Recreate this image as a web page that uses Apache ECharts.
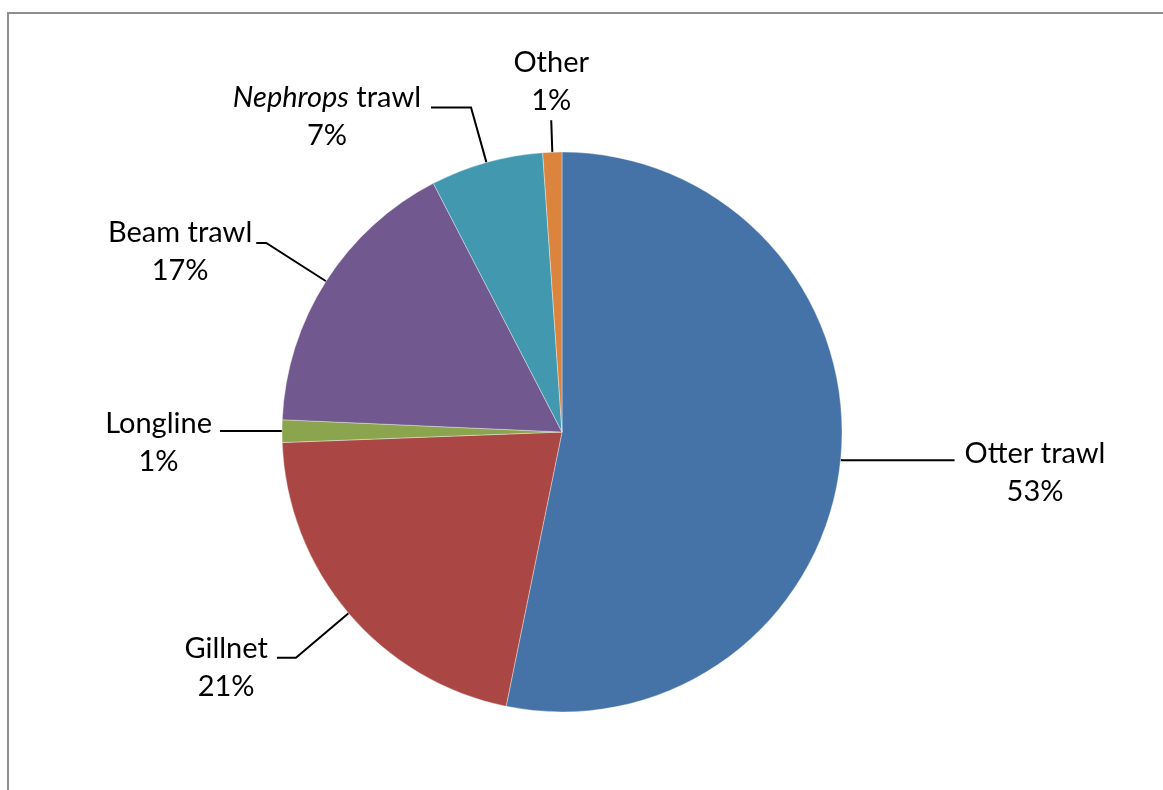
<!DOCTYPE html>
<html>
<head>
<meta charset="utf-8">
<script src="https://cdn.jsdelivr.net/npm/echarts@6/dist/echarts.min.js"></script>
<style>
  html, body { margin: 0; padding: 0; background: #ffffff; }
  #chart { width: 1163px; height: 790px; }
</style>
</head>
<body>
<div id="chart"></div>
<script>
// Share of landings by gear type (%)
const categories = ['Otter trawl', 'Gillnet', 'Longline', 'Beam trawl', 'Nephrops trawl', 'Other'];
const shares = [53.2, 21.2, 1.3, 16.7, 6.5, 1.1];
const sliceColors = ['#4673A7', '#AA4643', '#8BA54F', '#71588F', '#4198AF', '#DB843D'];

// Leader line lengths and label placement for each gear type
const leaderStyle = {
  'Otter trawl':    { length: 2,  length2: 112, side: 'right', gap: 10, rise: 7 },
  'Gillnet':        { length: 69, length2: 19,  side: 'left',  gap: 9,  rise: 9 },
  'Longline':       { length: 62, length2: 0,   side: 'left',  gap: 8,  rise: 7 },
  'Beam trawl':     { length: 71, length2: 10,  side: 'left',  gap: 4,  rise: 10 },
  'Nephrops trawl': { length: 57, length2: 40,  side: 'left',  gap: 10, rise: 10 },
  'Other':          { length: 32, length2: 0,   side: 'top',   gap: 1,  rise: 0 }
};

const FONT = 'Lato, "Open Sans", sans-serif';
const FONT_SIZE = 29;
const LINE_H = 38;

const tokenBase = { fontFamily: FONT, fontSize: FONT_SIZE, lineHeight: LINE_H, color: '#000000', align: 'center' };

const chart = echarts.init(document.getElementById('chart'), null, { renderer: 'canvas' });

const pieData = categories.map((name, i) => ({
  name: name,
  value: shares[i],
  itemStyle: { color: sliceColors[i] },
  labelLine: { length: leaderStyle[name].length, length2: leaderStyle[name].length2 }
}));

function labelText(p) {
  const namePart = p.name === 'Nephrops trawl'
    ? '{i|Nephrops}{n| trawl}'
    : '{n|' + p.name + '}';
  return namePart + '\n{n|' + p.percent + '%}';
}

chart.setOption({
  animation: false,
  backgroundColor: '#ffffff',
  graphic: [{
    type: 'rect',
    silent: true,
    shape: { x: 8, y: 13, width: 1300, height: 900 },
    style: { fill: null, stroke: '#8e8e8e', lineWidth: 2 }
  }],
  series: [{
    type: 'pie',
    center: [562, 432],
    radius: 280,
    startAngle: 90,
    clockwise: true,
    percentPrecision: 0,
    avoidLabelOverlap: false,
    itemStyle: { borderColor: 'rgba(255,255,255,0.45)', borderWidth: 0.8 },
    label: {
      show: true,
      position: 'outside',
      alignTo: 'none',
      formatter: labelText,
      fontFamily: FONT,
      fontSize: FONT_SIZE,
      lineHeight: LINE_H,
      color: '#000000',
      rich: {
        n: Object.assign({}, tokenBase),
        i: Object.assign({}, tokenBase, { fontStyle: 'italic' })
      }
    },
    labelLine: {
      show: true,
      smooth: false,
      lineStyle: { color: '#000000', width: 2 }
    },
    labelLayout: function (p) {
      const cfg = leaderStyle[categories[p.dataIndex]];
      const pts = p.labelLinePoints;
      const end = pts[2];
      const w = p.labelRect.width;
      const out = { labelLinePoints: pts, align: 'center' };
      if (cfg.side === 'top') {
        out.x = end[0];
        out.y = end[1] - cfg.gap;
        out.verticalAlign = 'bottom';
      } else {
        const dir = cfg.side === 'left' ? -1 : 1;
        out.x = end[0] + dir * (cfg.gap + w / 2);
        out.y = end[1] - cfg.rise - LINE_H / 2;
        out.verticalAlign = 'top';
      }
      return out;
    },
    emphasis: { disabled: true },
    data: pieData
  }]
});
</script>
</body>
</html>
